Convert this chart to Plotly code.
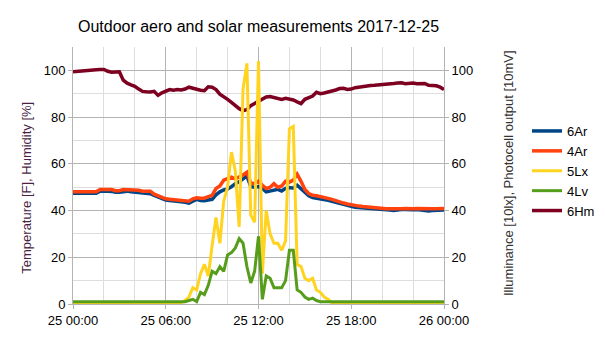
import pandas as pd
import plotly.graph_objects as go

# 15-minute samples, 2017-12-25 00:00 .. 2017-12-26 00:00
times = pd.date_range("2017-12-25 00:00", "2017-12-26 00:00", freq="15min")

ar6 = [47.4, 47.4, 47.4, 47.4, 47.4, 47.4, 47.4, 48.3, 48.4, 48.3,
       48.2, 47.8, 47.8, 48.2, 48.3, 48.0, 47.8, 47.8, 47.7, 47.5,
       47.2, 46.5, 45.8, 45.0, 44.5, 44.3, 44.2, 44.0, 43.8, 43.5,
       43.2, 44.0, 44.8, 44.3, 44.2, 44.5, 44.8, 46.7, 48.0, 48.8,
       49.3, 50.2, 51.5, 52.3, 53.6, 54.8, 50.2, 50.0, 50.3, 49.5,
       48.0, 48.3, 48.8, 49.1, 48.4, 49.5, 49.8, 49.7, 50.8, 49.2,
       47.5, 46.3, 45.6, 45.3, 45.2, 45.0, 44.4, 44.0, 43.5, 43.0,
       42.6, 42.2, 41.8, 41.4, 41.3, 41.1, 41.0, 40.9, 40.7, 40.6,
       40.4, 40.3, 40.2, 40.0, 40.3, 40.4, 40.4, 40.2, 40.3, 40.4,
       40.2, 40.0, 39.8, 40.0, 40.1, 40.2, 40.2]

ar4 = [48.0, 48.0, 48.0, 48.0, 48.0, 48.0, 48.0, 49.0, 49.0, 49.0,
       49.0, 48.5, 48.5, 49.0, 49.0, 48.7, 48.7, 48.7, 48.3, 48.3,
       48.3, 47.0, 46.3, 45.5, 45.0, 44.8, 44.7, 44.6, 44.4, 44.2,
       44.0, 45.0, 45.5, 45.3, 45.3, 46.0, 46.5, 49.4, 50.5, 53.0,
       53.8, 54.3, 53.6, 54.3, 55.2, 56.4, 51.8, 51.5, 52.5, 50.8,
       49.4, 50.0, 51.5, 50.0, 50.5, 52.6, 52.2, 53.0, 55.6, 52.5,
       49.0, 47.3, 46.5, 46.3, 46.0, 45.8, 45.2, 44.8, 44.2, 43.7,
       43.2, 42.8, 42.4, 42.0, 41.9, 41.7, 41.5, 41.4, 41.2, 41.1,
       40.9, 40.8, 40.8, 40.7, 40.8, 40.8, 40.9, 40.7, 40.8, 40.9,
       40.8, 40.7, 40.7, 40.8, 40.8, 40.9, 40.9]

lx5 = [0, 0, 0, 0, 0, 0, 0, 0, 0, 0,
       0, 0, 0, 0, 0, 0, 0, 0, 0, 0,
       0, 0, 0, 0, 0, 0, 0, 0, 0.5, 1.5,
       3, 7, 6, 13, 17, 12, 25, 37, 26, 44,
       50, 65, 57, 33, 92, 103, 38, 35, 104, 13,
       40, 30, 26, 26, 23, 27, 75, 76, 17, 16,
       11, 10, 11, 6, 5, 3, 2, 0.5, 0, 0,
       0, 0, 0, 0, 0, 0, 0, 0, 0, 0,
       0, 0, 0, 0, 0, 0, 0, 0, 0, 0,
       0, 0, 0, 0, 0, 0, 0]

lv4 = [1, 1, 1, 1, 1, 1, 1, 1, 1, 1,
       1, 1, 1, 1, 1, 1, 1, 1, 1, 1,
       1, 1, 1, 1, 1, 1, 1, 1, 1, 1,
       1.5, 2, 1, 5, 4, 8, 14, 13, 16, 14,
       21, 22, 24, 28, 26, 16, 9, 14, 29, 2,
       12, 11, 7, 7, 7, 10, 23, 23, 6, 5,
       3, 2, 2.5, 1.5, 1, 1, 1, 1, 1, 1,
       1, 1, 1, 1, 1, 1, 1, 1, 1, 1,
       1, 1, 1, 1, 1, 1, 1, 1, 1, 1,
       1, 1, 1, 1, 1, 1, 1]

hm6 = [99.4, 99.6, 99.7, 99.8, 100.0, 100.2, 100.3, 100.4, 100.4, 99.6,
       99.2, 99.3, 99.4, 95.8, 94.5, 93.8, 93.2, 92.0, 91.0, 90.8,
       90.7, 91.0, 89.3, 90.4, 91.0, 91.8, 91.5, 91.8, 91.6, 92.0,
       92.8, 92.3, 91.8, 91.5, 91.3, 93.0, 92.8, 91.8, 89.8, 88.8,
       87.6, 86.3, 84.9, 83.6, 82.8, 83.2, 84.9, 85.8, 86.6, 87.8,
       88.6, 88.8, 88.3, 88.0, 87.6, 88.0, 87.6, 87.3, 86.5, 85.8,
       87.6, 88.3, 89.0, 90.6, 90.0, 90.3, 90.7, 91.0, 91.6, 92.2,
       92.3, 91.8, 92.0, 92.6, 92.9, 93.0, 93.2, 93.5, 93.6, 93.7,
       93.9, 94.0, 94.2, 94.4, 94.6, 94.7, 94.3, 94.4, 94.6, 94.3,
       94.2, 94.4, 93.6, 93.5, 93.4, 92.8, 91.8]

y_ticks = [0, 20, 40, 60, 80, 100]

FONT = "Liberation Sans, Arial, sans-serif"

fig = go.Figure()
fig.add_trace(go.Scatter(x=times, y=ar6, name="6Ar", mode="lines",
                         line=dict(color="#004586", width=3.5)))
fig.add_trace(go.Scatter(x=times, y=ar4, name="4Ar", mode="lines",
                         line=dict(color="#ff420e", width=3.5)))
fig.add_trace(go.Scatter(x=times, y=lx5, name="5Lx", mode="lines", yaxis="y2",
                         line=dict(color="#ffd320", width=3)))
fig.add_trace(go.Scatter(x=times, y=lv4, name="4Lv", mode="lines", yaxis="y2",
                         line=dict(color="#579d1c", width=3)))
fig.add_trace(go.Scatter(x=times, y=hm6, name="6Hm", mode="lines",
                         line=dict(color="#7e0021", width=3.5)))

fig.update_layout(
    width=605, height=340,
    margin=dict(l=73, r=161, t=47, b=30),
    paper_bgcolor="white", plot_bgcolor="white",
    font=dict(family=FONT, size=13, color="#000000"),
    title=dict(text="Outdoor aero and solar measurements 2017-12-25",
               x=0.5, xref="paper", xanchor="center",
               y=1 - 26 / 340, yref="container", yanchor="middle",
               font=dict(size=16, color="#000000")),
    showlegend=True,
    legend=dict(x=527 / 605, xref="container", xanchor="left",
                y=1 - 171 / 340, yref="container", yanchor="middle",
                font=dict(size=13), tracegroupgap=0,
                bgcolor="rgba(0,0,0,0)"),
    xaxis=dict(
        type="date",
        range=[times[0], times[-1]],
        dtick=6 * 3600 * 1000, tick0="2017-12-25 00:00",
        tickformat="%d %H:%M",
        ticks="outside", ticklen=4, tickcolor="#b3b3b3",
        showgrid=True, gridcolor="#b3b3b3", gridwidth=1,
        minor=dict(dtick=2 * 3600 * 1000, showgrid=True, gridcolor="#dddddd", ticks=""),
        showline=True, linecolor="#b3b3b3", linewidth=1,
        zeroline=False, tickfont=dict(size=13),
    ),
    yaxis=dict(
        range=[0, 110], tickvals=y_ticks,
        ticks="outside", ticklen=4, tickcolor="#b3b3b3",
        showgrid=True, gridcolor="#b3b3b3",
        minor=dict(dtick=10, showgrid=True, gridcolor="#dddddd", ticks=""),
        showline=True, linecolor="#b3b3b3", linewidth=1,
        zeroline=False, tickfont=dict(size=13),
    ),
    yaxis2=dict(
        range=[0, 110], tickvals=y_ticks, overlaying="y", side="right",
        ticks="outside", ticklen=4, tickcolor="#b3b3b3",
        showgrid=False, showline=True, linecolor="#b3b3b3", linewidth=1,
        zeroline=False, tickfont=dict(size=13),
    ),
    annotations=[
        dict(text="Temperature [F], Humidity [%]", xref="paper", yref="paper",
             x=-(73 - 27) / 371, y=(310 - 191) / 263, textangle=-90,
             showarrow=False, xanchor="center", yanchor="middle",
             font=dict(size=13, color="#4b1f46")),
        dict(text="Illuminance [10lx], Photocell output [10mV]", xref="paper", yref="paper",
             x=(508 - 73) / 371, y=(310 - 176) / 263, textangle=-90,
             showarrow=False, xanchor="center", yanchor="middle",
             font=dict(size=13, color="#333333")),
    ],
)

fig.write_html("out.html")
